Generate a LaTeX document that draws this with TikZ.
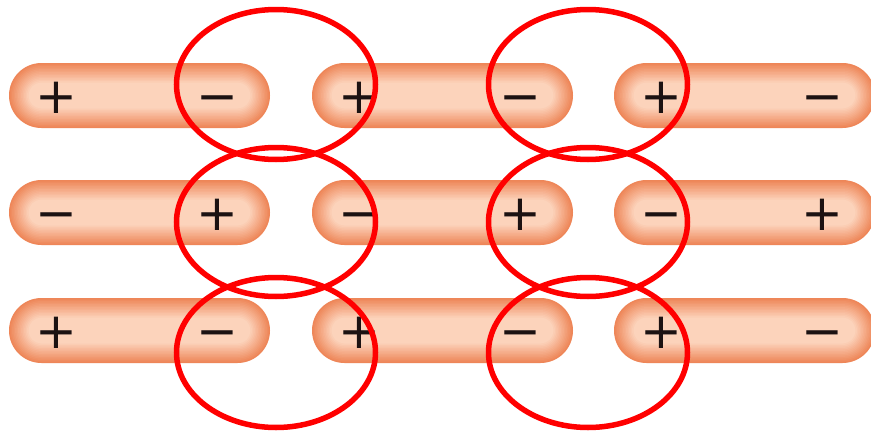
\documentclass[tikz,border=0pt]{standalone}
\usepackage{fontspec}
\newfontfamily\signfont{DejaVu Sans}
\definecolor{tubeedge}{HTML}{EE8658}
\definecolor{tubecore}{HTML}{FCD3BB}
\definecolor{ringred}{HTML}{FF0000}
\definecolor{signink}{HTML}{1C1212}
\tikzset{
  sign/.style={inner sep=0pt, text=signink, font=\signfont\fontsize{50}{50}\selectfont,
               text height=36pt, text depth=0pt, anchor=center},
  ring/.style={draw=ringred, line width=5.5pt},
}
% one dipole tube: left edge x, row centre y, sign at left end, sign at right end, name
\newcommand\dipoletube[5]{%
  \foreach \k in {0,...,13}{
    \pgfmathsetmacro\ins{\k*1.5}
    \pgfmathsetmacro\mixv{100-\k*7.69}
    \fill[tubeedge!\mixv!tubecore, rounded corners={(32.5-\ins)*1pt}]
      ({#1+\ins},{#2-32.5+\ins}) rectangle ({#1+261-\ins},{#2+32.5-\ins});
  }
  \node[sign] (#5a) at ({#1+47},#2) {#3};
  \node[sign] (#5b) at ({#1+208},#2) {#4};
}
\begin{document}
\begin{tikzpicture}[x=1pt,y=-1pt]
\useasboundingbox (0,0) rectangle (871,434);
\clip (0,0) rectangle (871,434);
\fill[white] (0,0) rectangle (871,434);
% row 1
\dipoletube{9}{95.5}{+}{−}{pA}
\dipoletube{312}{95.5}{+}{−}{pB}
\dipoletube{614}{95.5}{+}{−}{pC}
% row 2
\dipoletube{9}{212.5}{−}{+}{qA}
\dipoletube{312}{212.5}{−}{+}{qB}
\dipoletube{614}{212.5}{−}{+}{qC}
% row 3
\dipoletube{9}{330.5}{+}{−}{rA}
\dipoletube{312}{330.5}{+}{−}{rB}
\dipoletube{614}{330.5}{+}{−}{rC}
% attraction rings between neighbouring ends
\foreach \cx in {276,588}{
  \draw[ring] (\cx,84.5) ellipse [x radius=99.5, y radius=75];
  \draw[ring] (\cx,222) ellipse [x radius=99.5, y radius=74.5];
  \draw[ring] (\cx,352.5) ellipse [x radius=99.5, y radius=75];
}
\end{tikzpicture}
\end{document}
